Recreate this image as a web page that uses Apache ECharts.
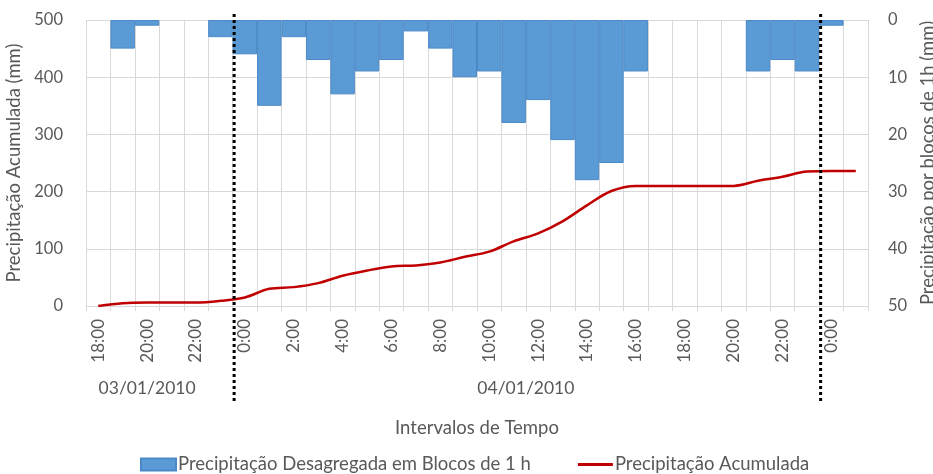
<!DOCTYPE html>
<html>
<head>
<meta charset="utf-8">
<script src="https://cdn.jsdelivr.net/npm/echarts@6/dist/echarts.min.js"></script>
<style>html,body{margin:0;padding:0;background:#fff}#c{width:933px;height:474px}</style>
</head>
<body>
<div id="c"></div>
<script>
var categories = ['18:00','19:00','20:00','21:00','22:00','23:00',
  '0:00','1:00','2:00','3:00','4:00','5:00','6:00','7:00','8:00','9:00','10:00','11:00',
  '12:00','13:00','14:00','15:00','16:00','17:00','18:00','19:00','20:00','21:00','22:00','23:00',
  '0:00','1:00'];
var hourlyRain = [null,5,1,null,null,3,
  6,15,3,7,13,9,7,2,5,10,9,18,
  14,21,28,25,9,null,null,null,null,9,7,9,
  1,null];
var accumulated = [0,5,6,6,6,9,
  15,30,33,40,53,62,69,71,76,86,95,113,
  127,148,176,201,210,210,210,210,210,219,226,235,
  236,236];
var leftTicks = [0,100,200,300,400,500];
var rightTicks = [0,10,20,30,40,50];
var dateLabels = ['03/01/2010','04/01/2010'];
var dayBreaks = [6,30];

var FONT = 'Lato';
var TXT = '#595959';
var chart = echarts.init(document.getElementById('c'));
var option = {
  animation: false,
  textStyle: {fontFamily: FONT},
  grid: {left: 86, right: 65, top: 20, bottom: 168, outerBoundsMode: 'none', containLabel: false},
  legend: {
    top: 450, left: 135, itemGap: 47, itemWidth: 35, itemHeight: 12,
    textStyle: {color: TXT, fontSize: 18.5, fontFamily: FONT, padding: [0,0,0,-3]},
    data: [
      {name: 'Precipitação Desagregada em Blocos de 1 h', icon: 'rect'},
      {name: 'Precipitação Acumulada', icon: 'path://M0,0 L35,0 L35,3 L0,3 Z'}
    ]
  },
  xAxis: {
    type: 'category', data: categories, boundaryGap: true,
    name: 'Intervalos de Tempo', nameLocation: 'middle', nameGap: 113,
    nameTextStyle: {color: TXT, fontSize: 18.5, fontFamily: FONT},
    axisLine: {lineStyle: {color: '#D9D9D9'}},
    axisTick: {show: true, interval: 0, length: 5, lineStyle: {color: '#D9D9D9'}},
    axisLabel: {interval: 1, rotate: 90, color: TXT, fontSize: 17, fontFamily: FONT, margin: 13},
    splitLine: {show: true, interval: 0, lineStyle: {color: '#D9D9D9'}}
  },
  yAxis: [
    {
      type: 'value', min: leftTicks[0], max: leftTicks[leftTicks.length-1], interval: 100,
      name: 'Precipitação Acumulada (mm)', nameLocation: 'middle', nameGap: 59, nameRotate: 90,
      nameTextStyle: {color: TXT, fontSize: 18.5, fontFamily: FONT},
      axisLine: {show: false}, axisTick: {show: false},
      axisLabel: {color: TXT, fontSize: 16.5, fontFamily: FONT, margin: 23},
      splitLine: {lineStyle: {color: '#D9D9D9'}}
    },
    {
      type: 'value', min: rightTicks[0], max: rightTicks[rightTicks.length-1], interval: 10, inverse: true,
      position: 'right',
      name: 'Precipitação por blocos de 1h (mm)', nameLocation: 'middle', nameGap: 50, nameRotate: 90,
      nameTextStyle: {color: TXT, fontSize: 18.5, fontFamily: FONT},
      axisLine: {show: false}, axisTick: {show: false},
      axisLabel: {color: TXT, fontSize: 16.5, fontFamily: FONT, margin: 20},
      splitLine: {show: false}
    }
  ],
  series: [
    {
      name: 'Precipitação Desagregada em Blocos de 1 h', type: 'bar', yAxisIndex: 1,
      data: hourlyRain, barWidth: '100%', barGap: '0%', barCategoryGap: '0%',
      itemStyle: {color: '#5B9BD5', borderColor: '#4A89C8', borderWidth: 1}
    },
    {
      name: 'Precipitação Acumulada', type: 'line', yAxisIndex: 0,
      data: accumulated, smooth: 0.35, symbol: 'none',
      lineStyle: {color: '#C00000', width: 2.5}, itemStyle: {color: '#C00000'}
    }
  ]
};
chart.setOption(option);

function drawExtras() {
  var c0 = chart.convertToPixel({xAxisIndex: 0}, 0);
  var c1 = chart.convertToPixel({xAxisIndex: 0}, 1);
  var band = c1 - c0;
  var els = [];
  dayBreaks.forEach(function (idx) {
    var x = chart.convertToPixel({xAxisIndex: 0}, idx) - band / 2 + 1.5;
    els.push({type: 'line', shape: {x1: x, y1: 14, x2: x, y2: 402},
      style: {stroke: '#000', lineWidth: 3, lineDash: [3, 3]}, z: 100});
  });
  var p0 = chart.convertToPixel({xAxisIndex: 0}, 2);
  var p1 = chart.convertToPixel({xAxisIndex: 0}, 17) + band / 2;
  [p0, p1].forEach(function (x, i) {
    els.push({type: 'text', x: x, y: 388,
      style: {text: dateLabels[i], fill: TXT, font: '17.5px ' + FONT, align: 'center', verticalAlign: 'middle'}, z: 100});
  });
  chart.setOption({graphic: els});
}
drawExtras();
</script>
</body>
</html>
